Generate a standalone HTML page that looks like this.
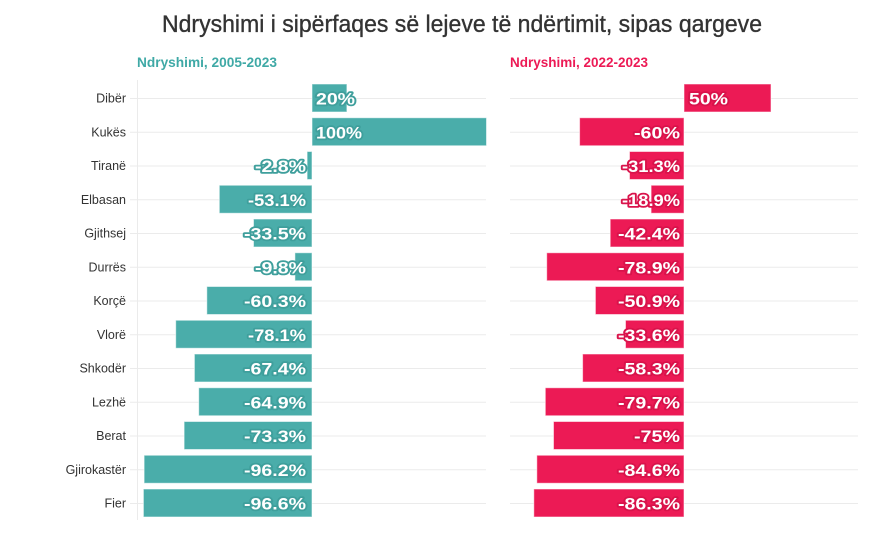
<!DOCTYPE html>
<html><head><meta charset="utf-8"><style>
html,body{margin:0;padding:0;background:#fff;}
svg{display:block;}
.cat{font-family:"Liberation Sans",sans-serif;font-size:12.5px;fill:#333;text-anchor:end;}
.v{font-family:"Liberation Sans",sans-serif;font-size:17px;font-weight:bold;fill:#fff;paint-order:stroke;stroke-width:3.5px;stroke-linejoin:round;}
.vl{stroke:#3f9f9c;}
.vr{stroke:#d9134b;}
.end{text-anchor:end;}
.bl{fill:#4aadaa;stroke:rgba(255,255,255,0.55);stroke-width:1;}
.br{fill:#ec1a55;stroke:rgba(255,255,255,0.55);stroke-width:1;}
.g{stroke:#ebebeb;stroke-width:1;}
</style></head><body>
<svg width="873" height="539" viewBox="0 0 873 539" xmlns="http://www.w3.org/2000/svg">
<text x="162" y="32" font-family="Liberation Sans, sans-serif" font-size="24" fill="#333" stroke="#333" stroke-width="0.35" textLength="600" lengthAdjust="spacingAndGlyphs">Ndryshimi i sipërfaqes së lejeve të ndërtimit, sipas qargeve</text>
<text x="137" y="67" font-family="Liberation Sans, sans-serif" font-size="14" font-weight="bold" fill="#3fa9a6" textLength="140" lengthAdjust="spacingAndGlyphs">Ndryshimi, 2005-2023</text>
<text x="510" y="67" font-family="Liberation Sans, sans-serif" font-size="14" font-weight="bold" fill="#ec1a55" textLength="138" lengthAdjust="spacingAndGlyphs">Ndryshimi, 2022-2023</text>

<g class="g">
<line x1="130" x2="486" y1="98.5" y2="98.5"/>
<line x1="130" x2="486" y1="132.25" y2="132.25"/>
<line x1="130" x2="486" y1="166" y2="166"/>
<line x1="130" x2="486" y1="199.75" y2="199.75"/>
<line x1="130" x2="486" y1="233.5" y2="233.5"/>
<line x1="130" x2="486" y1="267.25" y2="267.25"/>
<line x1="130" x2="486" y1="301" y2="301"/>
<line x1="130" x2="486" y1="334.75" y2="334.75"/>
<line x1="130" x2="486" y1="368.5" y2="368.5"/>
<line x1="130" x2="486" y1="402.25" y2="402.25"/>
<line x1="130" x2="486" y1="436" y2="436"/>
<line x1="130" x2="486" y1="469.75" y2="469.75"/>
<line x1="130" x2="486" y1="503.5" y2="503.5"/>
<line x1="137.5" x2="137.5" y1="80" y2="520"/>
</g>
<g class="g">
<line x1="510" x2="858" y1="98.5" y2="98.5"/>
<line x1="510" x2="858" y1="132.25" y2="132.25"/>
<line x1="510" x2="858" y1="166" y2="166"/>
<line x1="510" x2="858" y1="199.75" y2="199.75"/>
<line x1="510" x2="858" y1="233.5" y2="233.5"/>
<line x1="510" x2="858" y1="267.25" y2="267.25"/>
<line x1="510" x2="858" y1="301" y2="301"/>
<line x1="510" x2="858" y1="334.75" y2="334.75"/>
<line x1="510" x2="858" y1="368.5" y2="368.5"/>
<line x1="510" x2="858" y1="402.25" y2="402.25"/>
<line x1="510" x2="858" y1="436" y2="436"/>
<line x1="510" x2="858" y1="469.75" y2="469.75"/>
<line x1="510" x2="858" y1="503.5" y2="503.5"/>
</g>

<text class="cat" x="126" y="102.5">Dibër</text>
<text class="cat" x="126" y="136.25">Kukës</text>
<text class="cat" x="126" y="170">Tiranë</text>
<text class="cat" x="126" y="203.75">Elbasan</text>
<text class="cat" x="126" y="237.5">Gjithsej</text>
<text class="cat" x="126" y="271.25">Durrës</text>
<text class="cat" x="126" y="305">Korçë</text>
<text class="cat" x="126" y="338.75">Vlorë</text>
<text class="cat" x="126" y="372.5">Shkodër</text>
<text class="cat" x="126" y="406.25">Lezhë</text>
<text class="cat" x="126" y="440">Berat</text>
<text class="cat" x="126" y="473.75">Gjirokastër</text>
<text class="cat" x="126" y="507.5">Fier</text>

<rect class="bl" x="312" y="84" width="34.9" height="28"/>
<rect class="bl" x="312" y="117.75" width="174.5" height="28"/>
<rect class="bl" x="307.1" y="151.5" width="4.9" height="28"/>
<rect class="bl" x="219.3" y="185.25" width="92.7" height="28"/>
<rect class="bl" x="253.5" y="219" width="58.5" height="28"/>
<rect class="bl" x="294.9" y="252.75" width="17.1" height="28"/>
<rect class="bl" x="206.8" y="286.5" width="105.2" height="28"/>
<rect class="bl" x="175.7" y="320.25" width="136.3" height="28"/>
<rect class="bl" x="194.4" y="354" width="117.6" height="28"/>
<rect class="bl" x="198.7" y="387.75" width="113.3" height="28"/>
<rect class="bl" x="184.1" y="421.5" width="127.9" height="28"/>
<rect class="bl" x="144.1" y="455.25" width="167.9" height="28"/>
<rect class="bl" x="143.4" y="489" width="168.6" height="28"/>

<text class="v vl" x="316" y="104.5" textLength="39" lengthAdjust="spacingAndGlyphs">20%</text>
<text class="v vl" x="316" y="138.25" textLength="46" lengthAdjust="spacingAndGlyphs">100%</text>
<text class="v vl end" x="306" y="172" textLength="51" lengthAdjust="spacingAndGlyphs">-2.8%</text>
<text class="v vl end" x="306" y="205.75" textLength="58" lengthAdjust="spacingAndGlyphs">-53.1%</text>
<text class="v vl end" x="306" y="239.5" textLength="62" lengthAdjust="spacingAndGlyphs">-33.5%</text>
<text class="v vl end" x="306" y="273.25" textLength="51" lengthAdjust="spacingAndGlyphs">-9.8%</text>
<text class="v vl end" x="306" y="307" textLength="62" lengthAdjust="spacingAndGlyphs">-60.3%</text>
<text class="v vl end" x="306" y="340.75" textLength="58" lengthAdjust="spacingAndGlyphs">-78.1%</text>
<text class="v vl end" x="306" y="374.5" textLength="62" lengthAdjust="spacingAndGlyphs">-67.4%</text>
<text class="v vl end" x="306" y="408.25" textLength="62" lengthAdjust="spacingAndGlyphs">-64.9%</text>
<text class="v vl end" x="306" y="442" textLength="62" lengthAdjust="spacingAndGlyphs">-73.3%</text>
<text class="v vl end" x="306" y="475.75" textLength="62" lengthAdjust="spacingAndGlyphs">-96.2%</text>
<text class="v vl end" x="306" y="509.5" textLength="62" lengthAdjust="spacingAndGlyphs">-96.6%</text>

<rect class="br" x="684" y="84" width="87" height="28"/>
<rect class="br" x="579.6" y="117.75" width="104.4" height="28"/>
<rect class="br" x="629.5" y="151.5" width="54.5" height="28"/>
<rect class="br" x="651.1" y="185.25" width="32.9" height="28"/>
<rect class="br" x="610.2" y="219" width="73.8" height="28"/>
<rect class="br" x="546.7" y="252.75" width="137.3" height="28"/>
<rect class="br" x="595.4" y="286.5" width="88.6" height="28"/>
<rect class="br" x="625.5" y="320.25" width="58.5" height="28"/>
<rect class="br" x="582.6" y="354" width="101.4" height="28"/>
<rect class="br" x="545.3" y="387.75" width="138.7" height="28"/>
<rect class="br" x="553.5" y="421.5" width="130.5" height="28"/>
<rect class="br" x="536.8" y="455.25" width="147.2" height="28"/>
<rect class="br" x="533.8" y="489" width="150.2" height="28"/>

<text class="v vr" x="689" y="104.5" textLength="39" lengthAdjust="spacingAndGlyphs">50%</text>
<text class="v vr end" x="680" y="138.25" textLength="46" lengthAdjust="spacingAndGlyphs">-60%</text>
<text class="v vr end" x="680" y="172" textLength="58" lengthAdjust="spacingAndGlyphs">-31.3%</text>
<text class="v vr end" x="680" y="205.75" textLength="58" lengthAdjust="spacingAndGlyphs">-18.9%</text>
<text class="v vr end" x="680" y="239.5" textLength="62" lengthAdjust="spacingAndGlyphs">-42.4%</text>
<text class="v vr end" x="680" y="273.25" textLength="62" lengthAdjust="spacingAndGlyphs">-78.9%</text>
<text class="v vr end" x="680" y="307" textLength="62" lengthAdjust="spacingAndGlyphs">-50.9%</text>
<text class="v vr end" x="680" y="340.75" textLength="62" lengthAdjust="spacingAndGlyphs">-33.6%</text>
<text class="v vr end" x="680" y="374.5" textLength="62" lengthAdjust="spacingAndGlyphs">-58.3%</text>
<text class="v vr end" x="680" y="408.25" textLength="62" lengthAdjust="spacingAndGlyphs">-79.7%</text>
<text class="v vr end" x="680" y="442" textLength="46" lengthAdjust="spacingAndGlyphs">-75%</text>
<text class="v vr end" x="680" y="475.75" textLength="62" lengthAdjust="spacingAndGlyphs">-84.6%</text>
<text class="v vr end" x="680" y="509.5" textLength="62" lengthAdjust="spacingAndGlyphs">-86.3%</text>
</svg>
</body></html>
